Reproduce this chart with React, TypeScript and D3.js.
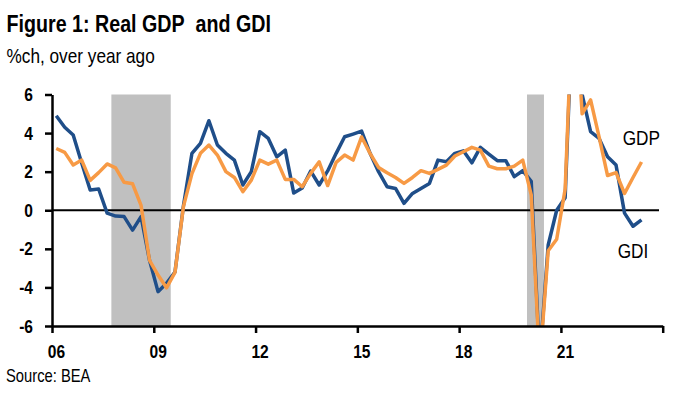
import React, { useRef, useEffect } from 'react';
import * as d3 from 'd3';

// quarterly, %ch over year ago, 2006Q1 .. 2023Q2
const gdi = [
  4.9, 4.3, 3.9, 2.45, 1.05, 1.1, -0.15, -0.3, -0.33, -1.03, -0.33, -2.6,
  -4.22, -3.79, -3.2, 0.25, 2.95, 3.47, 4.64, 3.38, 2.95, 2.6, 1.31, 2.0,
  4.07, 3.72, 2.77, 3.12, 0.89, 1.15, 2.03, 1.31, 2.04, 2.95, 3.81, 3.95,
  4.1, 2.95, 2.0, 1.22, 1.13, 0.36, 0.87, 1.13, 1.39, 2.6, 2.51, 2.95,
  3.08, 2.46, 3.26, 2.91, 2.57, 2.57, 1.74, 2.05, 1.5, -7.8, -1.8, 0.0,
  0.65, 12.0, 6.0, 4.07, 3.72, 2.77, 2.34, -0.15, -0.83, -0.5,
];
const gdp = [
  3.2, 3.0, 2.35, 2.6, 1.55, 1.95, 2.4, 2.2, 1.45, 1.37, 0.25, -2.6,
  -3.36, -4.02, -3.22, 0.2, 1.9, 2.95, 3.38, 2.86, 2.0, 1.7, 0.96, 1.56,
  2.6, 2.39, 2.6, 1.6, 1.6, 1.22, 1.91, 2.51, 1.28, 2.48, 2.86, 2.6,
  3.8, 2.95, 2.22, 1.94, 1.7, 1.39, 1.7, 2.05, 1.91, 2.12, 2.34, 2.81,
  3.03, 3.26, 3.12, 2.29, 2.15, 2.15, 2.29, 2.6, 0.8, -8.0, -2.1, -1.5,
  1.1, 12.2, 5.0, 5.72, 3.8, 1.8, 1.95, 0.87, 1.7, 2.5,
];
const startYear = 2006;
const recessionStart = [2007.75, 2020.0];
const recessionEnd = [2009.5, 2020.5];
const yTicks = [-6, -4, -2, 0, 2, 4, 6];
const xTicks = [2006, 2009, 2012, 2015, 2018, 2021, 2024];

// no Arial Narrow in the sandbox, so squeeze Liberation Sans instead
const font = '"Liberation Sans", Arial, sans-serif';
const squeeze = 0.82;

function Chart() {
  const ref = useRef<SVGSVGElement>(null);

  useEffect(() => {
    const svg = d3.select(ref.current);
    svg.selectAll('*').remove();

    const x = d3.scaleLinear().domain([2006, 2024]).range([52, 662.7]);
    const y = d3.scaleLinear().domain([-6, 6]).range([326, 94.5]);
    const qx = (i: number) => x(startYear + (i + 0.5) / 4);

    svg.append('clipPath').attr('id', 'plot')
      .append('rect')
      .attr('x', x(2006)).attr('y', y(6))
      .attr('width', x(2024) - x(2006)).attr('height', y(-6) - y(6));

    // recession shading
    svg.selectAll('.rec')
      .data(recessionStart)
      .enter()
      .append('rect')
      .attr('x', d => x(d))
      .attr('width', (d, i) => x(recessionEnd[i]) - x(d))
      .attr('y', y(6))
      .attr('height', y(-6) - y(6))
      .attr('fill', '#c0c0c0');

    // zero line
    svg.append('line')
      .attr('x1', x(2006)).attr('x2', 659)
      .attr('y1', y(0)).attr('y2', y(0))
      .attr('stroke', '#000').attr('stroke-width', 2);

    const line = d3.line<number>()
      .x((d, i) => qx(i))
      .y(d => y(d));

    const g = svg.append('g').attr('clip-path', 'url(#plot)');
    g.append('path').datum(gdi)
      .attr('d', line)
      .attr('fill', 'none')
      .attr('stroke', '#1f4e89')
      .attr('stroke-width', 3.5)
      .attr('stroke-linejoin', 'round');
    g.append('path').datum(gdp)
      .attr('d', line)
      .attr('fill', 'none')
      .attr('stroke', '#f79a45')
      .attr('stroke-width', 3.5)
      .attr('stroke-linejoin', 'round');

    // axes
    const yAxis = d3.axisLeft(y)
      .tickValues(yTicks)
      .tickSize(7)
      .tickSizeOuter(0)
      .tickPadding(12)
      .tickFormat(d => String(d));
    const ya = svg.append('g')
      .attr('transform', `translate(${x(2006)},0)`)
      .call(yAxis);

    const xAxis = d3.axisBottom(x)
      .tickValues(xTicks)
      .tickSize(7)
      .tickSizeOuter(0)
      .tickPadding(12)
      .tickFormat(d => (+d === 2024 ? '' : String(d).slice(2)));
    const xa = svg.append('g')
      .attr('transform', `translate(0,${y(-6)})`)
      .call(xAxis);

    [ya, xa].forEach((a, k) => {
      a.select('.domain').attr('stroke', '#000').attr('stroke-width', 2.5);
      a.selectAll('.tick line').attr('stroke', '#000').attr('stroke-width', 2.5);
      a.selectAll('text')
        .attr('fill', '#000')
        .style('font-family', font)
        .style('font-size', '19px')
        .style('font-weight', 'bold')
        .each(function () {
          const t = d3.select(this);
          const tx = (+t.attr('x') || 0) + (k === 1 ? 4 : 0);
          const ty = +t.attr('y') || 0;
          t.attr('x', 0).attr('y', 0)
            .attr('transform', `translate(${tx},${ty}) scale(${squeeze},1)`);
        });
    });

    const label = (tx: number, ty: number, size: number, txt: string, bold = false) =>
      svg.append('text')
        .attr('transform', `translate(${tx},${ty}) scale(${squeeze},1)`)
        .style('font-family', font)
        .style('font-size', size + 'px')
        .style('font-weight', bold ? 'bold' : 'normal')
        .attr('fill', '#000')
        .text(txt);

    // series labels
    label(622.7, 145, 21, 'GDP');
    label(617.7, 258.3, 21, 'GDI');

    // titles
    label(6.5, 31.7, 24, 'Figure 1: Real GDP\u00a0\u00a0and GDI', true);
    label(6.5, 63, 21, '%ch, over year ago');
    label(6, 381.7, 18, 'Source: BEA');
  }, []);

  return (
    <svg
      ref={ref}
      width={700}
      height={394}
      style={{ position: 'absolute', left: 0, top: 0, background: '#fff', display: 'block' }}
    />
  );
}

export default function App() {
  return <Chart />;
}
